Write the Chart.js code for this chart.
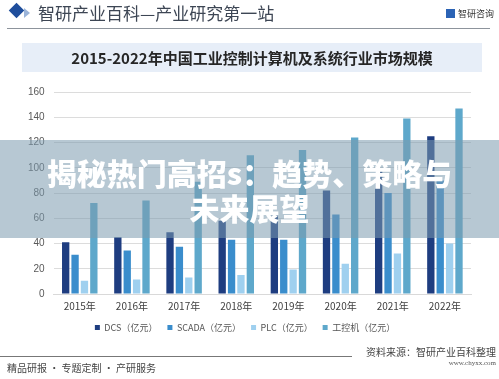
<!DOCTYPE html>
<html>
<head>
<meta charset="utf-8">
<script src="https://cdn.jsdelivr.net/npm/chart.js@4/dist/chart.umd.min.js"></script>
<style>
  body { margin: 0; background: #fff; font-family: "Noto Sans CJK SC", sans-serif; }
  #wrap { position: relative; width: 499px; height: 379px; overflow: hidden; background: #fff; }
  #c { position: absolute; left: 0; top: 0; }
  .abs { position: absolute; white-space: nowrap; }
  #diamond { left: 11px; top: 5px; width: 11px; height: 11px; background: #1f4e9c; transform: rotate(45deg); }
  #diamond2 { left: 24px; top: 8px; width: 0; height: 0; border-top: 5px solid transparent; border-bottom: 5px solid transparent; border-left: 6px solid #9bb4d8; }
  #head { left: 38px; top: 1px; font-size: 17px; color: #3d4654; line-height: 24px; }
  #logo { right: 5px; top: 8px; font-size: 9px; color: #333; line-height: 12px; }
  #logo span { display: inline-block; width: 9px; height: 9px; background: #2b63b5; margin-right: 3px; vertical-align: -1px; }
  #hline { left: 7px; top: 28px; width: 483px; height: 1px; background: #8d949c; }
  #tbox { left: 22px; top: 43px; width: 460px; height: 29px; background: #e7eef8; text-align: center; font-size: 15px; font-weight: bold; line-height: 29px; color: #262626; }
  #band { left: 0; top: 140px; width: 499px; height: 98px; background: rgba(124,155,175,0.55); }
  #ov { left: 0; top: 155px; width: 499px; text-align: center; color: #fff; font-size: 30px; font-weight: 900; line-height: 35px; white-space: normal; }
  #fline { left: 0; top: 356px; width: 352px; height: 1px; background: #777; }
  #src { right: 3px; top: 345px; font-size: 10px; color: #444; line-height: 14px; }
  #url { right: 3px; top: 359px; font-size: 7px; color: #555; font-family: "Liberation Serif", serif; line-height: 9px; }
  #slog { left: 7px; top: 361px; font-size: 10px; color: #444; line-height: 13px; }
</style>
</head>
<body>
<div id="wrap">
  <canvas id="c" width="499" height="379"></canvas>
  <div class="abs" id="diamond"></div>
  <div class="abs" id="diamond2"></div>
  <div class="abs" id="head">智研产业百科—产业研究第一站</div>
  <div class="abs" id="logo"><span></span>智研咨询</div>
  <div class="abs" id="hline"></div>
  <div class="abs" id="tbox">2015-2022年中国工业控制计算机及系统行业市场规模</div>
  <div class="abs" id="fline"></div>
  <div class="abs" id="src">资料来源：智研产业百科整理</div>
  <div class="abs" id="url">www.chyxx.com</div>
  <div class="abs" id="slog">精品研报 · 专题定制 · 产研服务</div>
  <div class="abs" id="band"></div>
  <div class="abs" id="ov">揭秘热门高招s：趋势、策略与<br>未来展望</div>
</div>
<script>
const years = ['2015年', '2016年', '2017年', '2018年', '2019年', '2020年', '2021年', '2022年'];
const dcs = [41, 45, 49, 58, 62, 82, 98, 125];
const scada = [31, 34.5, 37.5, 43, 43, 63, 80, 90];
const plc = [10.5, 11.5, 13, 15, 19.5, 24, 32, 40];
const ipc = [72, 74, 89, 110, 114, 124, 139, 147];
const yTicks = [0, 20, 40, 60, 80, 100, 120, 140, 160];

const ctx = document.getElementById('c').getContext('2d');
new Chart(ctx, {
    type: 'bar',
    data: {
        labels: years,
        datasets: [
            { label: 'DCS（亿元）', data: dcs, backgroundColor: '#1e3d80' },
            { label: 'SCADA（亿元）', data: scada, backgroundColor: '#3a8dcc' },
            { label: 'PLC（亿元）', data: plc, backgroundColor: '#9fd0ef' },
            { label: '工控机（亿元）', data: ipc, backgroundColor: '#5ea8cb' }
        ]
    },
    options: {
        responsive: false,
        animation: false,
        devicePixelRatio: 1,
        layout: { padding: { top: 92, left: 19, right: 28, bottom: 37 } },
        datasets: { bar: { categoryPercentage: 0.72, barPercentage: 0.78 } },
        plugins: {
            tooltip: { enabled: false },
            legend: {
                position: 'bottom',
                labels: {
                    boxWidth: 5, boxHeight: 5, padding: 10,
                    color: '#555',
                    font: { size: 9, family: '"Noto Sans CJK SC"' }
                }
            }
        },
        scales: {
            x: {
                grid: { display: false },
                border: { color: '#d9d9d9' },
                ticks: { color: '#404040', font: { size: 10, family: '"Noto Sans CJK SC"' }, padding: -2 },
                afterFit: (scale) => { scale.height += 3; }
            },
            y: {
                min: 0, max: 160,
                afterBuildTicks: (axis) => { axis.ticks = yTicks.map(v => ({ value: v })); },
                grid: { color: '#dcdcdc', drawTicks: false },
                border: { display: false },
                ticks: { color: '#595959', font: { size: 10, family: '"Liberation Sans"' }, padding: 9 }
            }
        }
    }
});
</script>
</body>
</html>
